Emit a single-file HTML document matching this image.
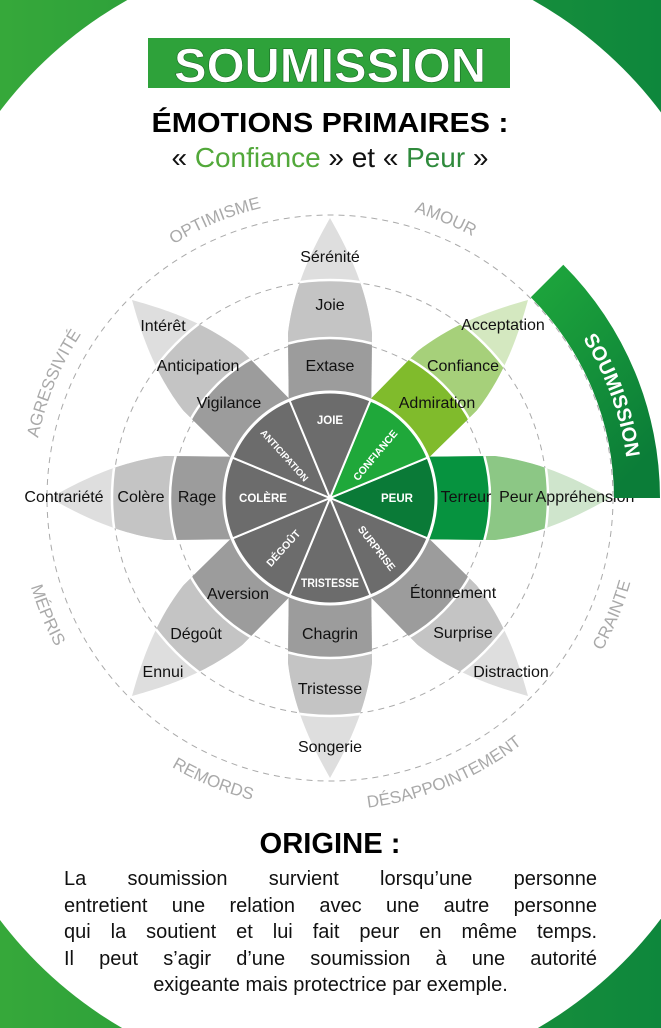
<!DOCTYPE html>
<html><head><meta charset="utf-8"><style>
html,body{margin:0;padding:0;background:#fff;overflow:hidden}
#w{position:relative;width:661px;height:1028px;overflow:hidden}
svg{position:absolute;left:0;top:0}
.body{position:absolute;left:64px;width:533px;top:866px;font-family:"Liberation Sans",sans-serif;font-size:20px;color:#111;line-height:26.5px}
.j{text-align:justify;text-align-last:justify;white-space:nowrap;height:26.5px}
.c{text-align:center;white-space:nowrap}
</style></head><body><div id="w">
<svg width="661" height="1028" viewBox="0 0 661 1028" xmlns="http://www.w3.org/2000/svg" font-family="Liberation Sans, sans-serif">
<defs>
<linearGradient id="bg" x1="0" y1="0" x2="1" y2="0"><stop offset="0" stop-color="#36a83a"/><stop offset="1" stop-color="#0e873c"/></linearGradient>
<linearGradient id="band" x1="0" y1="0" x2="0.6" y2="1"><stop offset="0" stop-color="#1fa83c"/><stop offset="1" stop-color="#0b7d38"/></linearGradient>
<clipPath id="pc"><path d="M70,-41 L165,-42 C215,-36 255,-14 280,0 C255,14 215,36 165,42 L70,41 Z"/></clipPath>
<path id="aOpt" d="M65.7,360.4 A298,298 0 0 1 419.6,213.8"/>
<path id="aAmo" d="M240.4,213.8 A298,298 0 0 1 594.3,360.4"/>
<path id="aAgr" d="M45.8,587.6 A298,298 0 0 1 192.4,233.7"/>
<path id="aCra" d="M474.1,774.7 A312,312 0 0 0 627.6,404.2"/>
<path id="aDes" d="M236.2,795.6 A312,312 0 0 0 606.7,642.0"/>
<path id="aRem" d="M53.3,642.0 A312,312 0 0 0 423.8,795.6"/>
<path id="aMep" d="M32.4,404.2 A312,312 0 0 0 186.0,774.7"/>
<path id="sArc" d="M541.4,286.6 A299,299 0 0 1 629,498"/>
</defs>
<rect width="661" height="1028" fill="url(#bg)"/>
<circle cx="330" cy="361" r="414" fill="#fff"/>
<circle cx="330" cy="670" r="414" fill="#fff"/>
<!-- title -->
<rect x="148" y="38" width="362" height="50" fill="#2ea23a"/>
<text x="330" y="82" text-anchor="middle" font-size="48" font-weight="bold" fill="#fff" textLength="312" lengthAdjust="spacingAndGlyphs" stroke="#1b6b26" stroke-width="0.6">SOUMISSION</text>
<text x="330" y="132" text-anchor="middle" font-size="28" font-weight="bold" fill="#000" textLength="357" lengthAdjust="spacingAndGlyphs">ÉMOTIONS PRIMAIRES :</text>
<text x="330" y="167" text-anchor="middle" font-size="28" fill="#111" textLength="317" lengthAdjust="spacingAndGlyphs">« <tspan fill="#52a83a">Confiance</tspan> » et « <tspan fill="#2f8a3c">Peur</tspan> »</text>
<!-- dashed circles -->
<g fill="none" stroke="#aaa" stroke-width="1" stroke-dasharray="6 5">
<circle cx="330" cy="498" r="157"/><circle cx="330" cy="498" r="217"/><circle cx="330" cy="498" r="283"/>
</g>
<!-- petals -->
<g transform="translate(330 498)">
<g transform="rotate(0)"><g clip-path="url(#pc)"><rect x="0" y="-50" width="300" height="100" fill="#cfe5cc"/><circle r="218" fill="#8cc785"/><circle r="160" fill="#06933f"/><circle r="218" fill="none" stroke="#fff" stroke-width="2.5"/><circle r="160" fill="none" stroke="#fff" stroke-width="2.5"/></g></g>
<g transform="rotate(315)"><g clip-path="url(#pc)"><rect x="0" y="-50" width="300" height="100" fill="#d4e8c0"/><circle r="218" fill="#a6d07a"/><circle r="160" fill="#80bb2c"/><circle r="218" fill="none" stroke="#fff" stroke-width="2.5"/><circle r="160" fill="none" stroke="#fff" stroke-width="2.5"/></g></g>
<g transform="rotate(45)"><g clip-path="url(#pc)"><rect x="0" y="-50" width="300" height="100" fill="#dedede"/><circle r="218" fill="#c4c4c4"/><circle r="160" fill="#9c9c9c"/><circle r="218" fill="none" stroke="#fff" stroke-width="2.5"/><circle r="160" fill="none" stroke="#fff" stroke-width="2.5"/></g></g>
<g transform="rotate(90)"><g clip-path="url(#pc)"><rect x="0" y="-50" width="300" height="100" fill="#dedede"/><circle r="218" fill="#c4c4c4"/><circle r="160" fill="#9c9c9c"/><circle r="218" fill="none" stroke="#fff" stroke-width="2.5"/><circle r="160" fill="none" stroke="#fff" stroke-width="2.5"/></g></g>
<g transform="rotate(135)"><g clip-path="url(#pc)"><rect x="0" y="-50" width="300" height="100" fill="#dedede"/><circle r="218" fill="#c4c4c4"/><circle r="160" fill="#9c9c9c"/><circle r="218" fill="none" stroke="#fff" stroke-width="2.5"/><circle r="160" fill="none" stroke="#fff" stroke-width="2.5"/></g></g>
<g transform="rotate(180)"><g clip-path="url(#pc)"><rect x="0" y="-50" width="300" height="100" fill="#dedede"/><circle r="218" fill="#c4c4c4"/><circle r="160" fill="#9c9c9c"/><circle r="218" fill="none" stroke="#fff" stroke-width="2.5"/><circle r="160" fill="none" stroke="#fff" stroke-width="2.5"/></g></g>
<g transform="rotate(225)"><g clip-path="url(#pc)"><rect x="0" y="-50" width="300" height="100" fill="#dedede"/><circle r="218" fill="#c4c4c4"/><circle r="160" fill="#9c9c9c"/><circle r="218" fill="none" stroke="#fff" stroke-width="2.5"/><circle r="160" fill="none" stroke="#fff" stroke-width="2.5"/></g></g>
<g transform="rotate(270)"><g clip-path="url(#pc)"><rect x="0" y="-50" width="300" height="100" fill="#dedede"/><circle r="218" fill="#c4c4c4"/><circle r="160" fill="#9c9c9c"/><circle r="218" fill="none" stroke="#fff" stroke-width="2.5"/><circle r="160" fill="none" stroke="#fff" stroke-width="2.5"/></g></g>
<!-- core wedges -->
<g stroke="#fff" stroke-width="2" stroke-linejoin="round">
<path transform="rotate(0)" d="M0,0 L97.9,-40.6 A106,106 0 0 1 97.9,40.6 Z" fill="#0a7a37"/>
<path transform="rotate(315)" d="M0,0 L97.9,-40.6 A106,106 0 0 1 97.9,40.6 Z" fill="#1fa83a"/>
<path transform="rotate(45)" d="M0,0 L97.9,-40.6 A106,106 0 0 1 97.9,40.6 Z" fill="#6c6c6c"/>
<path transform="rotate(90)" d="M0,0 L97.9,-40.6 A106,106 0 0 1 97.9,40.6 Z" fill="#6c6c6c"/>
<path transform="rotate(135)" d="M0,0 L97.9,-40.6 A106,106 0 0 1 97.9,40.6 Z" fill="#6c6c6c"/>
<path transform="rotate(180)" d="M0,0 L97.9,-40.6 A106,106 0 0 1 97.9,40.6 Z" fill="#6c6c6c"/>
<path transform="rotate(225)" d="M0,0 L97.9,-40.6 A106,106 0 0 1 97.9,40.6 Z" fill="#6c6c6c"/>
<path transform="rotate(270)" d="M0,0 L97.9,-40.6 A106,106 0 0 1 97.9,40.6 Z" fill="#6c6c6c"/>
</g>
<circle r="106" fill="none" stroke="#fff" stroke-width="3"/>
</g>
<!-- core labels -->
<g fill="#fff" font-weight="bold" font-size="11.5" text-anchor="middle">
<text x="330" y="424">JOIE</text>
<text x="397" y="502">PEUR</text>
<text x="263" y="502">COLÈRE</text>
<text x="330" y="587" textLength="58" lengthAdjust="spacingAndGlyphs">TRISTESSE</text>
<text transform="translate(375 455) rotate(-50)" y="4" font-size="10.5">CONFIANCE</text>
<text transform="translate(285 455) rotate(48)" y="4" font-size="9.5">ANTICIPATION</text>
<text transform="translate(283 548) rotate(-48)" y="4" font-size="10.5">DÉGOÛT</text>
<text transform="translate(377 548) rotate(52)" y="4" font-size="10.5">SURPRISE</text>
</g>
<!-- petal labels -->
<g fill="#111" font-size="16" text-anchor="middle">
<text x="330" y="262">Sérénité</text><text x="330" y="310">Joie</text><text x="330" y="371">Extase</text>
<text x="163" y="331">Intérêt</text><text x="198" y="371">Anticipation</text><text x="229" y="408">Vigilance</text>
<text x="64" y="502">Contrariété</text><text x="141" y="502">Colère</text><text x="197" y="502">Rage</text>
<text x="238" y="599">Aversion</text><text x="196" y="639">Dégoût</text><text x="163" y="677">Ennui</text>
<text x="330" y="639">Chagrin</text><text x="330" y="694">Tristesse</text><text x="330" y="752">Songerie</text>
<text x="453" y="598">Étonnement</text><text x="463" y="638">Surprise</text><text x="511" y="677">Distraction</text>
<text x="466" y="502">Terreur</text><text x="516" y="502">Peur</text><text x="585" y="502">Appréhension</text>
<text x="437" y="408">Admiration</text><text x="463" y="371">Confiance</text><text x="503" y="330">Acceptation</text>
</g>
<!-- outer labels -->
<g fill="#a9a9a9" font-size="17" text-anchor="middle">
<text><textPath href="#aOpt" startOffset="50%">OPTIMISME</textPath></text>
<text><textPath href="#aAmo" startOffset="50%">AMOUR</textPath></text>
<text><textPath href="#aAgr" startOffset="50%">AGRESSIVITÉ</textPath></text>
<text><textPath href="#aCra" startOffset="50%">CRAINTE</textPath></text>
<text><textPath href="#aDes" startOffset="50%">DÉSAPPOINTEMENT</textPath></text>
<text><textPath href="#aRem" startOffset="50%">REMORDS</textPath></text>
<text><textPath href="#aMep" startOffset="50%">MÉPRIS</textPath></text>
</g>
<!-- soumission band -->
<path d="M530.8,297.2 A284,284 0 0 1 614,498 L660,498 A330,330 0 0 0 563.3,264.7 Z" fill="url(#band)"/>
<text fill="#fff" font-size="20" font-weight="bold" text-anchor="middle"><textPath href="#sArc" startOffset="55.6%">SOUMISSION</textPath></text>
<!-- origine -->
<text x="330" y="853" text-anchor="middle" font-size="29" font-weight="bold" fill="#000" textLength="141" lengthAdjust="spacingAndGlyphs">ORIGINE :</text>
</svg>
<div class="body">
<div class="j">La soumission survient lorsqu’une personne</div>
<div class="j">entretient une relation avec une autre personne</div>
<div class="j">qui la soutient et lui fait peur en même temps.</div>
<div class="j">Il peut s’agir d’une soumission à une autorité</div>
<div class="c">exigeante mais protectrice par exemple.</div>
</div>
</div></body></html>
